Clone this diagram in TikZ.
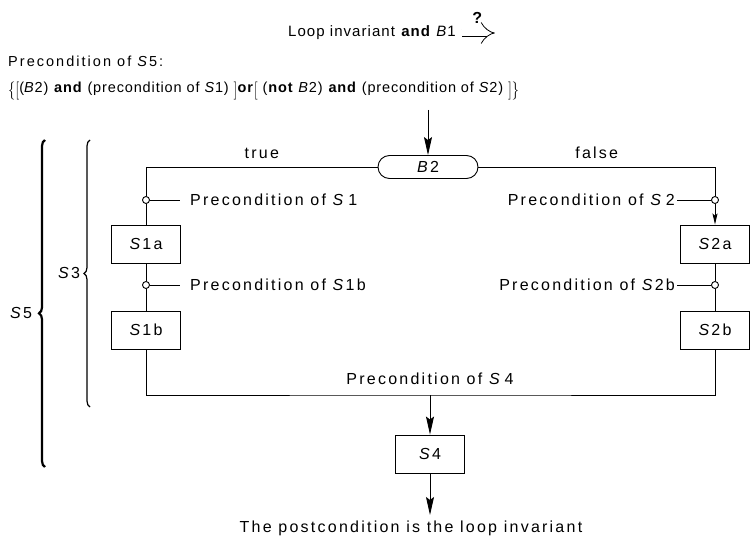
\documentclass[tikz,border=0pt]{standalone}
\usepackage{fontspec}
\setmainfont{Liberation Sans}[LetterSpace=14]
\usetikzlibrary{arrows.meta,positioning,shapes.misc,decorations.pathreplacing}

\newcommand{\tallbr}[1]{\raisebox{-0.5ex}{\scalebox{1}[1.25]{$\Big#1$}}}

\tikzset{
  blk/.style={draw, line width=0.9pt, minimum width=69pt, minimum height=38pt, inner sep=0pt},
  junc/.style={draw, circle, line width=0.9pt, fill=white, minimum size=7pt, inner sep=0pt},
  flow/.style={line width=0.9pt},
  arr/.style={flow, -{Stealth[length=18pt,width=8pt,inset=3pt]}},
  arrsmall/.style={flow, -{Stealth[length=11pt,width=5pt,inset=2pt]}},
  txt/.style={inner sep=0pt},
  prelbl/.style={inner ysep=0pt},
  bracelong/.style={decorate, decoration={brace, amplitude=6pt, aspect=0.47}, line width=2.2pt},
  braceshort/.style={decorate, decoration={brace, amplitude=6pt, aspect=0.5}, line width=1.2pt}
}

\begin{document}
\begin{tikzpicture}[x=1pt, y=-1pt, font=\fontsize{16}{19}\selectfont]
	%%%%% START %%%%%
	\useasboundingbox (0,0) rectangle (750,540);
	
	\node[txt, anchor=west, font=\fontsize{15}{18}\selectfont\addfontfeature{LetterSpace=7}] (inv) at (288,33) {Loop invariant \textbf{and} \textit{B}1};
	\draw[line width=0.8pt, double, double distance=7pt, -{Implies}] ([xshift=6pt]inv.east) -- ++(33,0) node[midway, above=6pt] (qm) {\textbf{?}};
	
	\node[txt, anchor=west, font=\fontsize{14.5}{17}\selectfont] (pre5) at (8,61) {Precondition of \textit{S}5:};
	\node[txt, anchor=west, font=\fontsize{14.5}{17}\selectfont\addfontfeature{LetterSpace=6}] (cond) at (8,91) {\tallbr\{\tallbr[(\textit{B}2) \textbf{and} (precondition of \textit{S}1) \tallbr]\textbf{or}\tallbr[ (\textbf{not} \textit{B}2) \textbf{and} (precondition of \textit{S}2) \tallbr]\tallbr\}};
	
	\coordinate (in) at (428,110);
	\node[draw, rounded rectangle, line width=0.9pt, minimum width=100pt, minimum height=23pt, inner sep=0pt] (b2) at (428,167) {\textit{B}2};
	\draw[arr] (in) -- (b2);
	
	\node[junc] (c1) at (146,200) {};
	\node[junc] (c2) at (146,285) {};
	\node[junc] (c3) at (715,200) {};
	\node[junc] (c4) at (715,285) {};
	
	\node[blk] (s1a) at (146,244) {\textit{S}1a};
	\node[blk] (s1b) at (146,330) {\textit{S}1b};
	\node[blk] (s2a) at (715,244) {\textit{S}2a};
	\node[blk] (s2b) at (715,330) {\textit{S}2b};
	\node[blk] (s4) at (430,454) {\textit{S}4};
	
	\draw[flow] (b2.west) -| node[pos=0.25, above=5pt] (tru) {true} (c1);
	\draw[flow] (b2.east) -| node[pos=0.25, above=5pt] (fal) {false} (c3);
	
	\draw[flow] (c1) -- (s1a);
	\draw[flow] (s1a) -- (c2);
	\draw[flow] (c2) -- (s1b);
	\draw[arrsmall] (c3) -- (s2a);
	\draw[flow] (s2a) -- (c4);
	\draw[flow] (c4) -- (s2b);
	
	\node[prelbl, anchor=west, inner xsep=10pt] (pre1) at (180,200) {Precondition of \textit{S}\,1};
	\node[prelbl, anchor=west, inner xsep=10pt] (pre1b) at (180,285) {Precondition of \textit{S}1b};
	\node[prelbl, anchor=east, inner xsep=2pt] (pre2) at (677,200) {Precondition of \textit{S}\,2};
	\node[prelbl, anchor=east, inner xsep=2pt] (pre2b) at (677,285) {Precondition of \textit{S}2b};
	\draw[flow] (c1) -- (pre1);
	\draw[flow] (c2) -- (pre1b);
	\draw[flow] (c3) -- (pre2);
	\draw[flow] (c4) -- (pre2b);
	
	\coordinate (jn) at (430,395);
	\draw[flow] (s1b) |- (jn) -| (s2b);
	\node[txt] (pre4) at (430,379) {Precondition of \textit{S}\,4};
	\draw[arr] (jn) -- (s4);
	\coordinate (out) at (430,515);
	\draw[arr] (s4) -- (out);
	\node[txt] (post) at (411,528) {The postcondition is the loop invariant};
	
	\draw[bracelong] (45,467) -- (45,140);
	\node[txt] (l5) at (21,313) {\textit{S}5};
	\draw[braceshort] (90,407) -- (90,140);
	\node[txt] (l3) at (69,273) {\textit{S}3};
	
	%%%%% END %%%%%
\end{tikzpicture}
\end{document}
